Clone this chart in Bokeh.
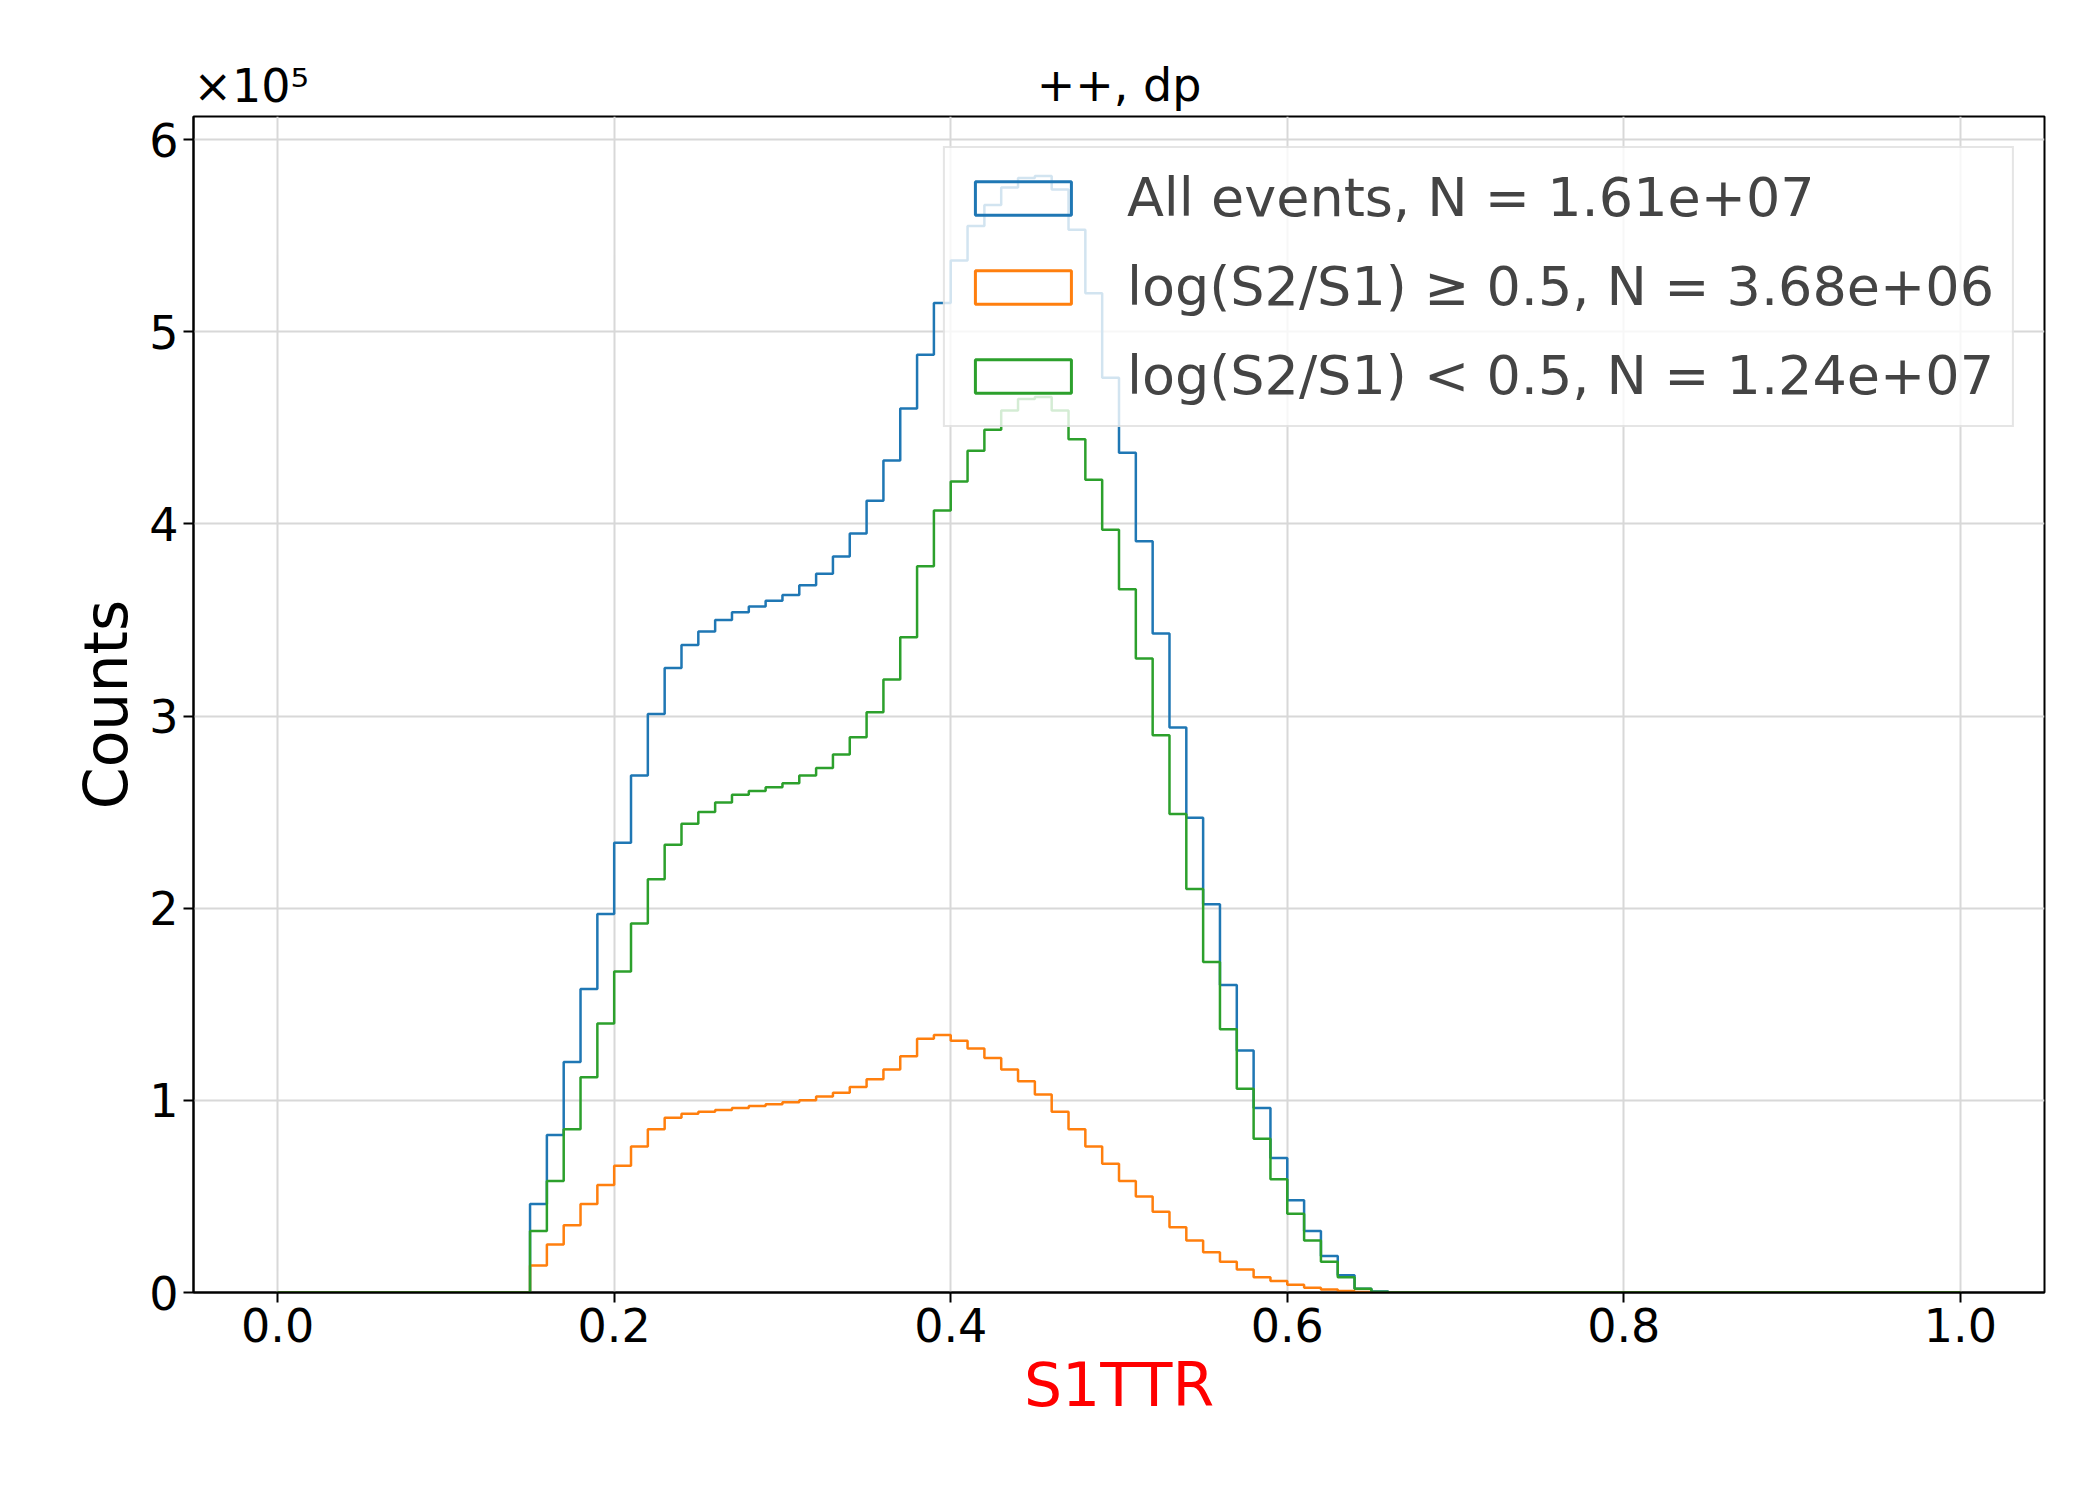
from bokeh.plotting import figure
from bokeh.models import Range1d, FixedTicker, Legend, LegendItem
from bokeh.embed import file_html
from bokeh.resources import INLINE

# histogram settings: 100 bins of 0.01 over [0, 1], counts in units of 1e5
bin_width = 0.01
n_bins = 100
first_bin = 15  # first non-empty bin (0.15)

all_events = [0.46, 0.82, 1.20, 1.58, 1.97, 2.34, 2.69, 3.01, 3.25, 3.37, 3.44, 3.50, 3.54, 3.57,
              3.60, 3.63, 3.68, 3.74, 3.83, 3.95, 4.12, 4.33, 4.60, 4.88, 5.15, 5.37, 5.55, 5.66,
              5.75, 5.80, 5.81, 5.74, 5.53, 5.20, 4.76, 4.37, 3.91, 3.43, 2.94, 2.47, 2.02, 1.60,
              1.26, 0.96, 0.70, 0.48, 0.32, 0.19, 0.09, 0.02, 0.005]
high_ratio = [0.14, 0.25, 0.35, 0.46, 0.56, 0.66, 0.76, 0.85, 0.91, 0.93, 0.94, 0.95, 0.96, 0.97,
              0.98, 0.99, 1.00, 1.02, 1.04, 1.07, 1.11, 1.16, 1.23, 1.32, 1.34, 1.31, 1.27, 1.22,
              1.16, 1.10, 1.03, 0.94, 0.85, 0.76, 0.67, 0.58, 0.50, 0.42, 0.34, 0.27, 0.21, 0.16,
              0.12, 0.08, 0.06, 0.04, 0.025, 0.015, 0.008, 0.003, 0.001]
low_ratio = [0.32, 0.58, 0.85, 1.12, 1.40, 1.67, 1.92, 2.15, 2.33, 2.44, 2.50, 2.55, 2.59, 2.61,
             2.63, 2.65, 2.69, 2.73, 2.80, 2.89, 3.02, 3.19, 3.41, 3.78, 4.07, 4.22, 4.38, 4.49,
             4.59, 4.65, 4.66, 4.59, 4.44, 4.23, 3.97, 3.66, 3.30, 2.90, 2.49, 2.10, 1.72, 1.37,
             1.06, 0.80, 0.59, 0.41, 0.27, 0.16, 0.08, 0.02, 0.004]

labels = ["All events, N = 1.61e+07",
          "log(S2/S1) \u2265 0.5, N = 3.68e+06",
          "log(S2/S1) < 0.5, N = 1.24e+07"]
colors = ["#1f77b4", "#ff7f0e", "#2ca02c"]

FONT = "DejaVu Sans"


def full_hist(vals):
    h = [0.0] * n_bins
    for i, v in enumerate(vals):
        h[first_bin + i] = v
    return h


edges = [i * bin_width for i in range(n_bins + 1)]

p = figure(width=2084, height=1484, output_backend="svg", toolbar_location=None,
           x_range=Range1d(-0.05, 1.05), y_range=Range1d(0, 6.12),
           min_border_left=193, min_border_right=40, min_border_top=116, min_border_bottom=192)
p.title.text = "++, dp"
p.title.align = "center"
p.title.text_font = FONT
p.title.text_font_size = "46px"
p.title.text_font_style = "normal"
p.title.text_color = "black"

items = []
for vals, lab, col in zip([all_events, high_ratio, low_ratio], labels, colors):
    h = full_hist(vals)
    p.step(x=edges, y=h + [h[-1]], mode="after", line_color=col, line_width=2.5)
    # legend swatch: an outlined box placed outside the visible range
    swatch = p.quad(left=[5], right=[6], top=[-5], bottom=[-6], fill_alpha=0,
                    line_color=col, line_width=3)
    items.append(LegendItem(label=lab, renderers=[swatch]))

legend = Legend(items=items, location="top_right", label_text_font=FONT,
                label_text_font_size="54px", glyph_width=120, glyph_height=42,
                spacing=26, padding=18, label_standoff=44,
                background_fill_alpha=0.8, border_line_color="#cccccc",
                border_line_width=2, margin=30)
p.add_layout(legend)

p.xaxis.ticker = FixedTicker(ticks=[0, 0.2, 0.4, 0.6, 0.8, 1.0])
p.xaxis.major_label_overrides = {0: "0.0", 0.2: "0.2", 0.4: "0.4", 0.6: "0.6", 0.8: "0.8", 1.0: "1.0"}
p.yaxis.ticker = FixedTicker(ticks=[0, 1, 2, 3, 4, 5, 6])
for ax in (p.xaxis, p.yaxis):
    ax.major_label_text_font = FONT
    ax.major_label_text_font_size = "46px"
    ax.major_label_text_color = "black"
    ax.axis_label_text_font = FONT
    ax.axis_label_text_font_style = "normal"
    ax.axis_label_text_font_size = "60px"
    ax.axis_label_text_color = "black"
    ax.major_tick_line_width = 2
    ax.major_tick_out = 10
    ax.major_tick_in = 0
    ax.minor_tick_line_color = None
    ax.axis_line_width = 2
    ax.axis_line_color = "black"
    ax.major_tick_line_color = "black"
p.xaxis.axis_label = "S1TTR"
p.xaxis.axis_label_text_color = "red"
p.yaxis.axis_label = "Counts"

p.grid.grid_line_color = "#d8d8d8"
p.grid.grid_line_width = 2
p.outline_line_color = "black"
p.outline_line_width = 2

p.text(x=[-0.05], y=[6.12], text=["\u00d710\u2075"], text_font_size="46px",
       text_baseline="bottom", text_align="left", y_offset=-4,
       text_font={"value": FONT})
p.renderers[-1].level = "overlay"

open("out.html", "w").write(file_html(p, INLINE))
